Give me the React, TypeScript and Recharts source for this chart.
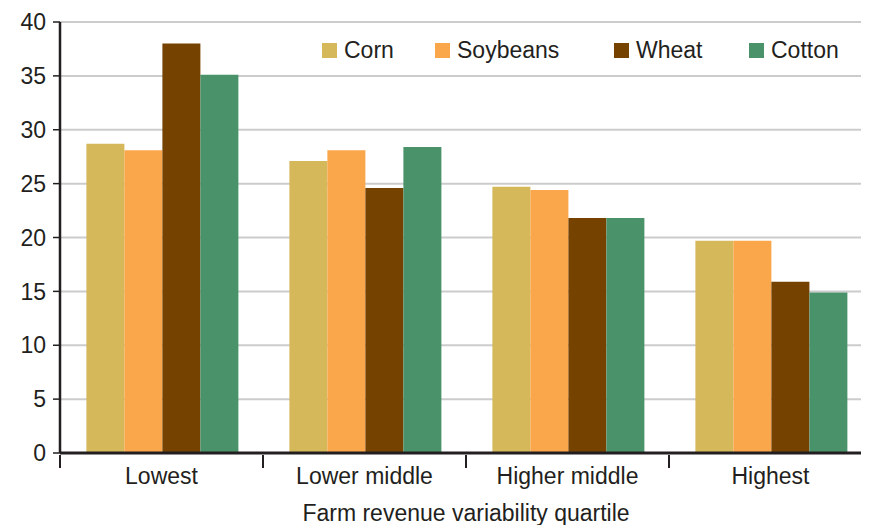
import React from "react";
import { BarChart, Bar, XAxis, YAxis, CartesianGrid } from "recharts";

const categories = ["Lowest", "Lower middle", "Higher middle", "Highest"];
const corn = [28.7, 27.1, 24.7, 19.7];
const soybeans = [28.1, 28.1, 24.4, 19.7];
const wheat = [38.0, 24.6, 21.8, 15.9];
const cotton = [35.1, 28.4, 21.8, 14.9];
const yTicks = [0, 5, 10, 15, 20, 25, 30, 35, 40];

const seriesNames = ["Corn", "Soybeans", "Wheat", "Cotton"];
const seriesKeys = ["corn", "soybeans", "wheat", "cotton"];
const seriesColors = ["#D5B85A", "#FAA64A", "#764200", "#4A926A"];

const data = categories.map((c, i) => ({
  name: c,
  corn: corn[i],
  soybeans: soybeans[i],
  wheat: wheat[i],
  cotton: cotton[i],
}));

const FONT = "'Liberation Sans', Arial, Helvetica, sans-serif";
const INK = "#231f20";
const HALF_BAND = 101.5;

const XTick = (props: any) => {
  const { x, y, payload } = props;
  return (
    <g>
      <line x1={x - HALF_BAND} y1={y - 6} x2={x - HALF_BAND} y2={y + 7} stroke={INK} strokeWidth={2} />
      <line x1={x + HALF_BAND} y1={y - 6} x2={x + HALF_BAND} y2={y + 7} stroke={INK} strokeWidth={2} />
      <text x={x} y={y + 23} textAnchor="middle" fill={INK} fontSize={23} fontFamily={FONT}>
        {payload.value}
      </text>
    </g>
  );
};

const legendX = [322, 435, 614, 749];

export default function App() {
  return (
    <div style={{ position: "relative", margin: "-8px 0 0 -8px", width: 880, height: 525, fontFamily: FONT, overflow: "visible" }}>
      <div style={{ position: "absolute", left: 30, top: -21, fontSize: 23, color: INK, whiteSpace: "nowrap", lineHeight: "24px" }}>
        Share of payments (percent)
      </div>
      <BarChart
        width={880}
        height={525}
        data={data}
        margin={{ top: 22, right: 8, bottom: 0, left: 0 }}
        barCategoryGap="13%"
        barGap={0}
      >
        <CartesianGrid vertical={false} stroke="#cccccc" strokeWidth={2} />
        <XAxis
          dataKey="name"
          height={72}
          axisLine={{ stroke: INK, strokeWidth: 3 }}
          tickLine={false}
          tick={<XTick />}
          interval={0}
          label={{ value: "Farm revenue variability quartile", position: "insideBottom", offset: 4, fill: INK, fontSize: 23, fontFamily: FONT }}
        />
        <YAxis
          width={60}
          domain={[0, 40]}
          ticks={yTicks}
          interval={0}
          axisLine={{ stroke: INK, strokeWidth: 2.5 }}
          tickLine={{ stroke: INK, strokeWidth: 1.5 }}
          tickSize={7}
          tickMargin={7}
          tick={{ fill: INK, fontSize: 23, fontFamily: FONT }}
        />
        {seriesKeys.map((k, i) => (
          <Bar key={k} dataKey={k} name={seriesNames[i]} fill={seriesColors[i]} isAnimationActive={false} />
        ))}
      </BarChart>
      {seriesNames.map((n, i) => (
        <div
          key={n}
          style={{ position: "absolute", left: legendX[i], top: 36, display: "flex", alignItems: "center", fontSize: 23, color: INK, whiteSpace: "nowrap", lineHeight: "28px" }}
        >
          <span style={{ display: "inline-block", width: 15, height: 15, background: seriesColors[i], marginRight: 7 }} />
          {n}
        </div>
      ))}
    </div>
  );
}
